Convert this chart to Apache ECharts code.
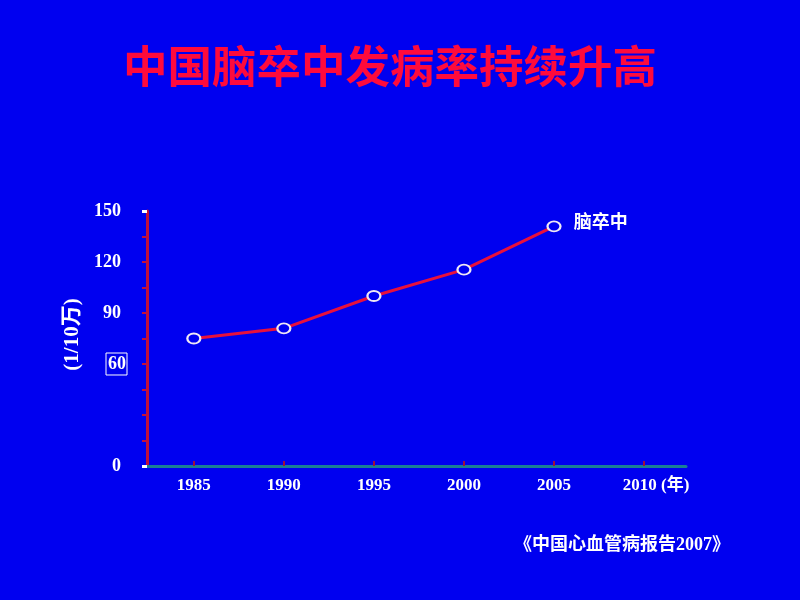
<!DOCTYPE html>
<html>
<head>
<meta charset="utf-8">
<script src="https://cdn.jsdelivr.net/npm/echarts@6/dist/echarts.min.js"></script>
<style>html,body{margin:0;padding:0;background:#0000f0;}#c{width:800px;height:600px;}</style>
</head>
<body>
<div id="c"></div>
<script>
var years = [1985, 1990, 1995, 2000, 2005];
var strokeRate = [75, 81, 100, 115.5, 141];
var xTickYears = [1985, 1990, 1995, 2000, 2005, 2010];
var yLabelValues = [0, 90, 120, 150];
var yBoxedLabelValues = [60];
var titleText = '中国脑卒中发病率持续升高';
var seriesName = '脑卒中';
var yName = '(1/10万)';
var sourceText = '《中国心血管病报告2007》';

var serif = "'Liberation Serif', 'Noto Sans CJK SC'";
var chart = echarts.init(document.getElementById('c'));
chart.setOption({
  backgroundColor: '#0000f0',
  animation: false,
  title: [{
    text: titleText,
    left: 118, top: 39,
    textStyle: {color: '#ff0a3c', fontSize: 44.5, fontWeight: 'bold', fontFamily: 'Noto Sans CJK SC'}
  }, {
    text: sourceText,
    left: 509, top: 531,
    textStyle: {color: '#ffffff', fontSize: 18, fontWeight: 'bold', fontFamily: serif}
  }],
  grid: {left: 147, right: 114, top: 211, bottom: 134},
  xAxis: {
    type: 'value', min: 1982.4, max: 2012.33,
    axisLine: {lineStyle: {color: '#1a7f95', width: 3}},
    axisTick: {show: true, inside: true, length: 5, customValues: xTickYears, lineStyle: {color: '#a0103c', width: 2}},
    axisLabel: {
      customValues: xTickYears, margin: 11,
      color: '#ffffff', fontSize: 17, fontWeight: 'bold', fontFamily: serif,
      formatter: function (v) { return v === 2010 ? '{e|2010 (年)}' : String(v); },
      rich: {e: {color: '#ffffff', fontSize: 17, fontWeight: 'bold', fontFamily: serif, padding: [0, 0, 0, 24]}}
    },
    splitLine: {show: false}
  },
  yAxis: [{
    type: 'value', min: 0, max: 150, interval: 15,
    name: yName, nameLocation: 'middle', nameRotate: 90, nameGap: 62,
    nameTextStyle: {color: '#ffffff', fontSize: 21, fontWeight: 'bold', fontFamily: serif, padding: [0, 0, 0, 8]},
    axisLine: {show: true, lineStyle: {color: '#c0103c', width: 3}},
    axisTick: {show: true, length: 5, lineStyle: {color: '#c0103c', width: 2}},
    axisLabel: {
      customValues: yLabelValues, margin: 26,
      color: '#ffffff', fontSize: 18, fontWeight: 'bold', fontFamily: serif,
      padding: [3, 0, 0, 0]
    },
    splitLine: {show: false}
  }, {
    type: 'value', min: 0, max: 150, position: 'left',
    axisLine: {show: false},
    axisTick: {show: true, length: 5, customValues: [0, 150], lineStyle: {color: '#ffffff', width: 3}},
    axisLabel: {
      customValues: yBoxedLabelValues, margin: 20,
      color: '#ffffff', fontSize: 18, fontWeight: 'bold', fontFamily: serif,
      borderColor: '#ffffff', borderWidth: 1, padding: [3, 1, 1, 2]
    },
    splitLine: {show: false}
  }],
  series: [{
    type: 'line', name: seriesName,
    data: years.map(function (y, i) { return [y, strokeRate[i]]; }),
    lineStyle: {color: '#e8103c', width: 3},
    symbol: 'circle', symbolSize: [13, 10],
    itemStyle: {color: '#0000f0', borderColor: '#f0e8f4', borderWidth: 2},
    label: {
      show: true, position: 'right', distance: 12, offset: [0, -5],
      color: '#ffffff', fontSize: 18, fontWeight: 'bold', fontFamily: 'Noto Sans CJK SC',
      formatter: function (p) { return p.dataIndex === years.length - 1 ? seriesName : ''; }
    }
  }]
});
</script>
</body>
</html>
